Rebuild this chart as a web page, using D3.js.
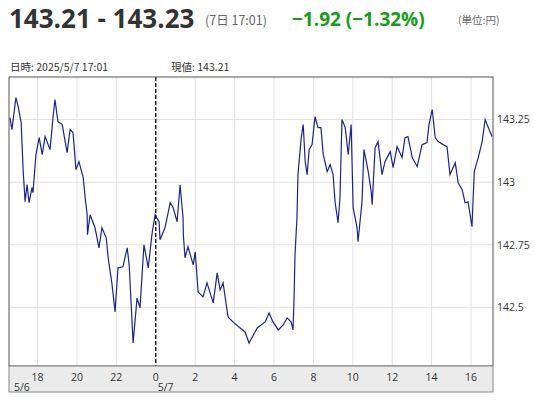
<!DOCTYPE html>
<html><head><meta charset="utf-8">
<script src="https://cdn.jsdelivr.net/npm/d3@7"></script>
<style>
body{margin:0;background:#fff;font-family:"Noto Sans CJK JP","Noto Sans",sans-serif;}
</style></head>
<body><div id="chart"></div>
<script>
// minutes from 5/7 0:00
var times = [-444,-438,-435,-426,-419,-410,-404,-398,-392,-386,-377,-374,-365,-355,-346,-337,-322,-313,-307,-298,-285,-270,-261,-252,-243,-234,-221,-215,-209,-208,-200,-185,-173,-164,-151,-145,-133,-124,-115,-100,-87,-81,-69,-57,-48,-36,-23,-11,-2,10,13,28,44,53,65,74,83,84,89,98,114,120,129,144,156,175,187,196,205,220,235,257,272,284,309,333,345,357,373,388,400,412,418,421,424,430,433,443,449,455,461,467,476,485,494,503,510,522,531,540,546,555,561,567,577,586,595,601,613,616,628,634,647,656,659,668,677,689,698,714,723,735,750,759,768,781,796,811,826,832,842,851,860,875,887,896,912,921,933,942,951,963,970,982,994,1003,1015,1024];
var prices = [143.258,143.21,143.242,143.338,143.302,143.238,143.05,142.922,142.99,142.918,142.978,142.958,143.11,143.178,143.11,143.182,143.13,143.258,143.33,143.242,143.23,143.118,143.21,143.198,143.05,143.082,143.018,142.938,142.87,142.79,142.87,142.818,142.738,142.818,142.778,142.698,142.59,142.482,142.658,142.662,142.738,142.67,142.358,142.538,142.498,142.75,142.658,142.798,142.87,142.842,142.77,142.818,142.918,142.898,142.842,142.99,142.858,142.79,142.698,142.742,142.67,142.722,142.562,142.542,142.598,142.518,142.638,142.57,142.598,142.462,142.442,142.418,142.402,142.358,142.418,142.442,142.478,142.442,142.41,142.43,142.458,142.442,142.41,142.53,142.71,142.858,143.03,143.178,143.23,143.082,143.03,143.13,143.15,143.262,143.218,143.218,143.11,143.042,143.07,143.03,142.922,142.838,142.938,143.25,143.218,143.11,143.23,142.898,142.818,142.762,142.922,143.13,143.042,142.962,142.91,143.138,143.162,143.03,143.082,143.122,143.058,143.142,143.098,143.178,143.182,143.098,143.062,143.15,143.158,143.23,143.29,143.178,143.162,143.15,143.142,143.03,143.078,142.998,142.97,142.918,142.922,142.822,143.042,143.098,143.162,143.25,143.21,143.182];
var hourTicks = [-360,-240,-120,0,120,240,360,480,600,720,840,960];
var hourLabels = ["18","20","22","0","2","4","6","8","10","12","14","16"];
var priceTicks = [142.5,142.75,143,143.25];

var width = 534, height = 400;
var plotLeft = 9, plotRight = 493, plotTop = 77, plotBottom = 366;

var svg = d3.select("#chart").append("svg").attr("width", width).attr("height", height);

// header
svg.append("text").attr("x", 9).attr("y", 28).attr("font-size", 26).attr("font-weight", "bold")
  .attr("fill", "#333").attr("font-family", "'Open Sans',sans-serif").text("143.21 - 143.23");
svg.append("text").attr("x", 205).attr("y", 25).attr("font-size", 12.5).attr("fill", "#666").text("(7日 17:01)");
svg.append("text").attr("x", 292).attr("y", 26).attr("font-size", 19).attr("font-weight", "bold")
  .attr("fill", "#1a9a1a").attr("font-family", "'Open Sans',sans-serif").text("\u22121.92 (\u22121.32%)");
svg.append("text").attr("x", 458).attr("y", 24).attr("font-size", 10.5).attr("fill", "#666").text("(単位:円)");
svg.append("text").attr("x", 10).attr("y", 71).attr("font-size", 10.5).attr("fill", "#333").text("日時: 2025/5/7  17:01");
svg.append("text").attr("x", 171).attr("y", 71).attr("font-size", 10.5).attr("fill", "#333").text("現値: 143.21");

var xScale = d3.scaleLinear().domain([-447, 1027]).range([plotLeft, plotRight]);
var yScale = d3.scaleLinear().domain([142.266, 143.42]).range([plotBottom, plotTop]);

// grid
svg.selectAll(".vg").data(hourTicks.filter(function(d) { return d !== 0; })).enter().append("line")
  .attr("x1", function(d) { return xScale(d); }).attr("x2", function(d) { return xScale(d); })
  .attr("y1", plotTop).attr("y2", plotBottom).attr("stroke", "#e2e2e2");
svg.selectAll(".hg").data(priceTicks).enter().append("line")
  .attr("x1", plotLeft).attr("x2", plotRight)
  .attr("y1", function(d) { return yScale(d); }).attr("y2", function(d) { return yScale(d); })
  .attr("stroke", "#e2e2e2");
svg.append("line").attr("x1", xScale(0)).attr("x2", xScale(0)).attr("y1", plotTop).attr("y2", plotBottom)
  .attr("stroke", "#000").attr("stroke-width", 1.3).attr("stroke-dasharray", "4,2");

// price line
var line = d3.line().x(function(d, i) { return xScale(times[i]); }).y(function(d) { return yScale(d); });
svg.append("path").datum(prices).attr("d", line).attr("fill", "none")
  .attr("stroke", "#1c2391").attr("stroke-width", 1.2);

// frame
svg.append("rect").attr("x", plotLeft).attr("y", plotTop).attr("width", plotRight - plotLeft).attr("height", plotBottom - plotTop)
  .attr("fill", "none").attr("stroke", "#555");

// bottom strip
svg.append("rect").attr("x", plotLeft).attr("y", plotBottom).attr("width", plotRight - plotLeft).attr("height", 26)
  .attr("fill", "#ebebeb").attr("stroke", "#888");

var fs = 10.5;
svg.selectAll(".xl").data(hourTicks).enter().append("text")
  .attr("x", function(d) { return xScale(d); }).attr("y", 381).attr("text-anchor", "middle")
  .attr("font-size", fs).attr("fill", "#333").attr("font-family", "'Open Sans',sans-serif")
  .text(function(d, i) { return hourLabels[i]; });
svg.append("text").attr("x", 14).attr("y", 391).attr("font-size", fs).attr("fill", "#333")
  .attr("font-family", "'Open Sans',sans-serif").text("5/6");
svg.append("text").attr("x", xScale(0) + 2).attr("y", 391).attr("font-size", fs).attr("fill", "#333")
  .attr("font-family", "'Open Sans',sans-serif").text("5/7");

// y labels
var yAxis = d3.axisRight(yScale).tickValues(priceTicks).tickSize(0).tickPadding(4)
  .tickFormat(function(d) { return String(d); });
var gy = svg.append("g").attr("transform", "translate(" + plotRight + ",0)").call(yAxis);
gy.select(".domain").remove();
gy.selectAll("text").attr("font-size", fs).attr("fill", "#333").attr("font-family", "'Open Sans',sans-serif");
</script>
</body></html>
